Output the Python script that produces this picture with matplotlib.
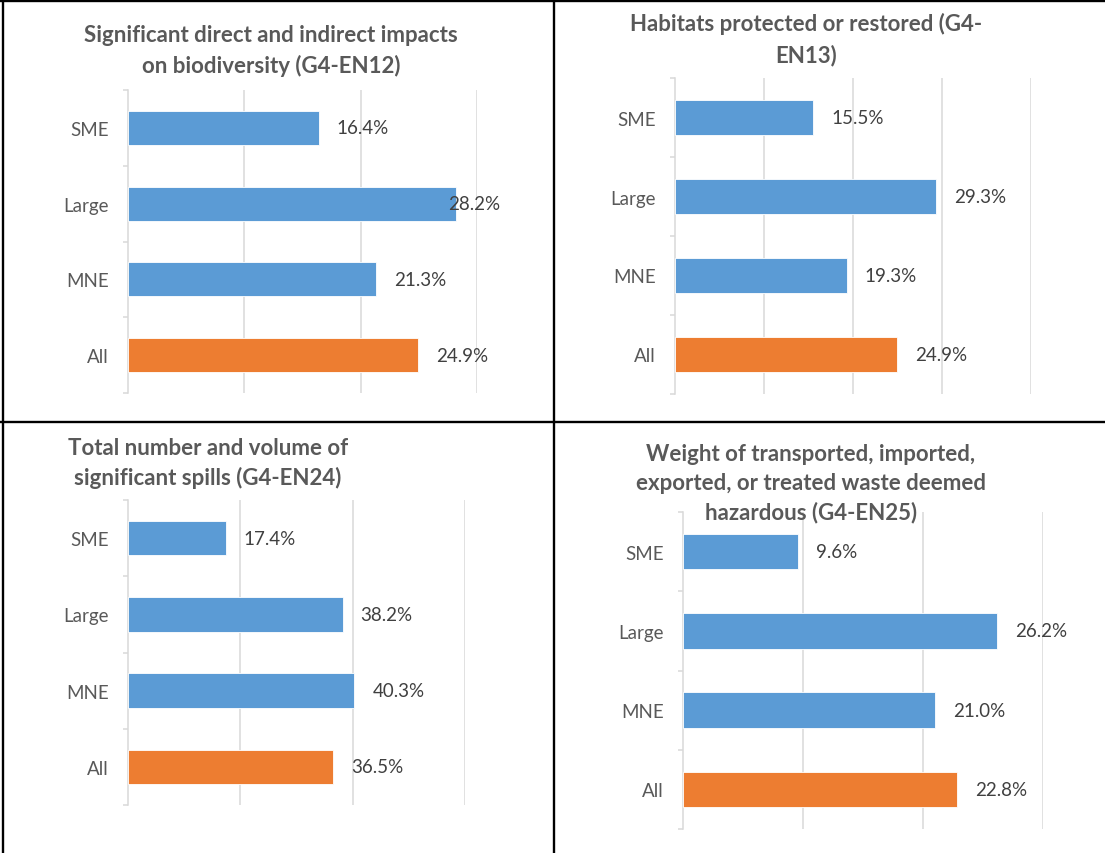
import matplotlib
matplotlib.use("Agg")
import matplotlib.pyplot as plt
from matplotlib.lines import Line2D

plt.rcParams['font.family'] = ['Lato', 'DejaVu Sans']

# ---- data -------------------------------------------------------------
categories = ["SME", "Large", "MNE", "All"]

titles = [
    ["Significant direct and indirect impacts", "on biodiversity (G4-EN12)"],
    ["Habitats protected or restored (G4-", "EN13)"],
    ["Total number and volume of", "significant spills (G4-EN24)"],
    ["Weight of transported, imported,", "exported, or treated waste deemed",
     "hazardous (G4-EN25)"],
]

en12_values = [16.4, 28.2, 21.3, 24.9]
en13_values = [15.5, 29.3, 19.3, 24.9]
en24_values = [17.4, 38.2, 40.3, 36.5]
en25_values = [9.6, 26.2, 21.0, 22.8]

x_max = [30, 40, 60, 30]
x_step = [10, 10, 20, 10]

# ---- layout (pixels) --------------------------------------------------
W, H = 1105, 854
DPI = 100
fig = plt.figure(figsize=(W / DPI, H / DPI), dpi=DPI)
fig.patch.set_facecolor("white")

# plot boxes: left, top, right, bottom in pixels
boxes = [
    (128, 91, 477, 394),
    (675, 79, 1031, 395),
    (128, 501, 465, 806),
    (683, 513, 1043, 830),
]
# right edge of each chart area (labels are kept inside it)
area_right = [500, 1100, 550, 1100]
# title centre x and line baselines
title_cx = [271, 806, 208, 811]
title_baselines = [
    [42, 73],
    [31, 62],
    [455, 485],
    [461, 490, 519],
]

BLUE = "#5B9BD5"
ORANGE = "#ED7D31"
GRID = "#D9D9D9"
TEXT = "#595959"
LABEL = "#404040"

TITLE_SIZE = 16
TICK_SIZE = 13.5
VALUE_SIZE = 13.5

series = [en12_values, en13_values, en24_values, en25_values]

def px_rect(l, t, r, b):
    return [l / W, 1 - b / H, (r - l) / W, (b - t) / H]

label_artists = []
for i, values in enumerate(series):
    ax = fig.add_axes(px_rect(*boxes[i]))
    ypos = list(range(len(categories)))
    colors = [ORANGE if c == "All" else BLUE for c in categories]
    ax.barh(ypos, values, height=0.45, color=colors, edgecolor="white",
            linewidth=0.6, zorder=3)
    ax.set_xlim(0, x_max[i])
    ax.set_ylim(len(categories) - 0.5, -0.5)
    ax.set_xticks(list(range(x_step[i], x_max[i] + 1, x_step[i])))
    ax.xaxis.grid(True, color=GRID, linewidth=1.1, zorder=0)
    ax.set_axisbelow(True)
    ax.tick_params(axis="x", length=0, labelbottom=False)

    ax.set_yticks(ypos)
    ax.set_yticklabels(categories)
    ax.set_yticks([y - 0.5 for y in range(len(categories) + 1)], minor=True)
    ax.tick_params(axis="y", which="major", length=0, pad=14,
                   labelsize=TICK_SIZE, labelcolor=TEXT)
    ax.tick_params(axis="y", which="minor", length=3.6, width=1.1,
                   color=GRID)

    for side in ("top", "right", "bottom"):
        ax.spines[side].set_visible(False)
    ax.spines["left"].set_color(GRID)
    ax.spines["left"].set_linewidth(1.1)

    for y, v in zip(ypos, values):
        t = ax.annotate(f"{v:.1f}%", xy=(v, y), xytext=(13, 0),
                        textcoords="offset points", ha="left", va="center",
                        fontsize=VALUE_SIZE, color=LABEL, zorder=4)
        label_artists.append((t, i))

    for line, yb in zip(titles[i], title_baselines[i]):
        fig.text(title_cx[i] / W, 1 - yb / H, line, ha="center",
                 va="baseline", fontsize=TITLE_SIZE, fontweight="bold",
                 color=TEXT)

# keep data labels inside their chart area
fig.canvas.draw()
renderer = fig.canvas.get_renderer()
for t, i in label_artists:
    bb = t.get_window_extent(renderer)
    if bb.x1 > area_right[i]:
        ox, oy = t.xyann
        t.xyann = (ox - (bb.x1 - area_right[i]) * 72 / DPI, oy)

# table borders
def hline(y, x0=0, x1=W):
    fig.add_artist(Line2D([x0 / W, x1 / W], [1 - y / H, 1 - y / H],
                          transform=fig.transFigure, color="black",
                          linewidth=1.7))

def vline(x, y0=0, y1=H):
    fig.add_artist(Line2D([x / W, x / W], [1 - y0 / H, 1 - y1 / H],
                          transform=fig.transFigure, color="black",
                          linewidth=1.7))

hline(2.2)
hline(422.8)
vline(2.8)
vline(553.7)

fig.savefig("out.png", dpi=DPI, facecolor="white")
